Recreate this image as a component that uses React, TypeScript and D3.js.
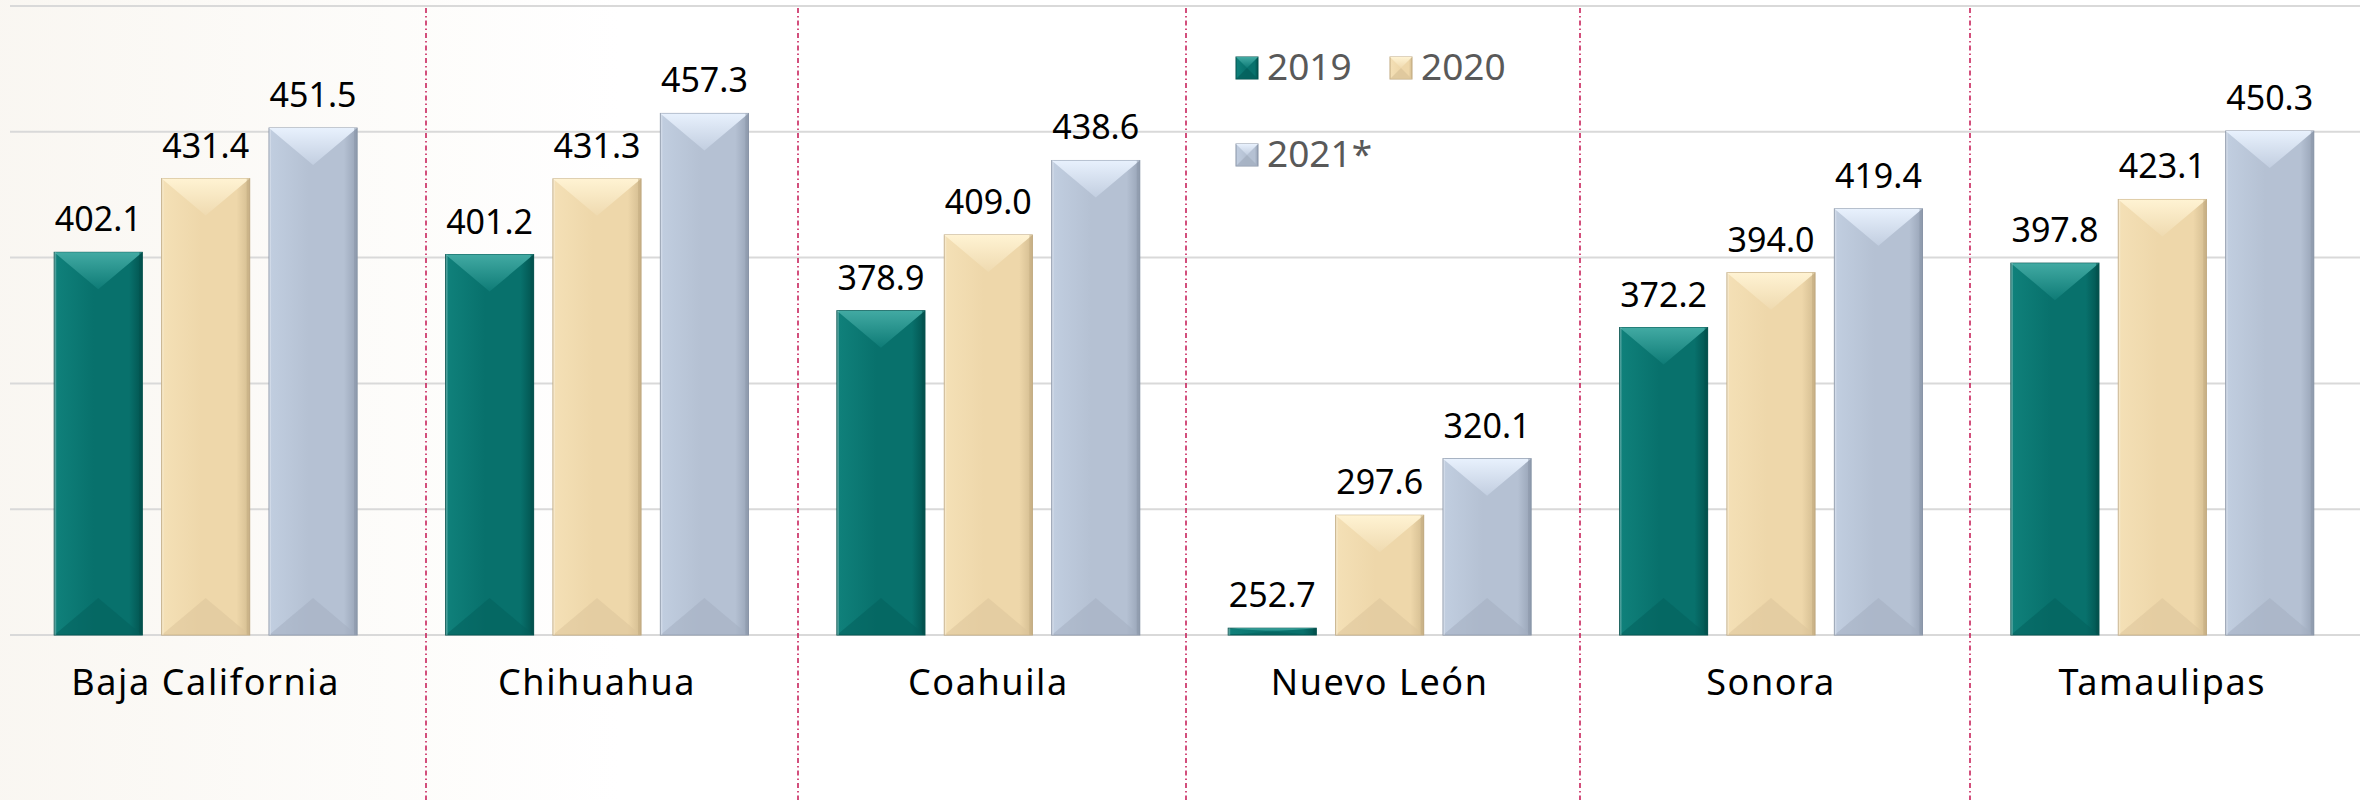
import React from 'react';
import * as d3 from 'd3';

const states = ['Baja California', 'Chihuahua', 'Coahuila', 'Nuevo León', 'Sonora', 'Tamaulipas'];
const seriesNames = ['2019', '2020', '2021*'];
const values2019 = [402.1, 401.2, 378.9, 252.7, 372.2, 397.8];
const values2020 = [431.4, 431.3, 409.0, 297.6, 394.0, 423.1];
const values2021 = [451.5, 457.3, 438.6, 320.1, 419.4, 450.3];
const yTicks = [250, 300, 350, 400, 450, 500];
// dash-dot separators drawn over the slide (not on band edges)
const separatorX = [426, 798, 1186, 1580, 1970];

const W = 2366;
const H = 800;

// colours for each series: side gradient, top facet, bottom facet, edge
const palette = [
  { left: '#10817b', mid: '#08716c', right: '#02534f', topA: '#42aaa3', topB: '#0e7b76', bottom: '#04605c', edge: '#03504c' },
  { left: '#f4e0b6', mid: '#eed7aa', right: '#d3bc90', topA: '#fff3d3', topB: '#efdab0', bottom: '#dcc59b', edge: '#bfa87e' },
  { left: '#c1cee0', mid: '#b5c1d3', right: '#97a3b6', topA: '#e8f1fd', topB: '#c2cee0', bottom: '#a4afc1', edge: '#8793a6' },
];

const App: React.FC = () => {
  const table = states.map((s, i) => ({ state: s, vals: [values2019[i], values2020[i], values2021[i]] }));

  const x0 = d3.scaleBand<string>().domain(states).range([10, 2358]).paddingInner(0.226).paddingOuter(0.113);
  const x1 = d3.scaleBand<string>().domain(seriesNames).range([0, x0.bandwidth()]).paddingInner(0.18);
  const y = d3.scaleLinear().domain([250, 500]).range([635, 6]);

  const bar = (sx: number, v: number, k: number, key: string) => {
    const p = palette[k];
    const w = x1.bandwidth();
    const top = y(v);
    const h = y(250) - top;
    const d = Math.min(37, h / 2);
    const cx = sx + w / 2;
    return (
      <g key={key}>
        <rect x={sx} y={top} width={w} height={h} fill={`url(#side${k})`} stroke={p.edge} strokeWidth={1} />
        <polygon points={`${sx},${top} ${sx + w},${top} ${cx},${top + d}`} fill={`url(#top${k})`} />
        <polygon points={`${sx},${top + h} ${sx + w},${top + h} ${cx},${top + h - d}`} fill={p.bottom} opacity={0.55} />
        <rect x={sx + w - 3} y={top} width={3} height={h} fill={p.edge} opacity={0.5} />
        <rect x={sx} y={top} width={2} height={h} fill="#ffffff" opacity={0.25} />
      </g>
    );
  };

  const swatch = (sx: number, sy: number, k: number) => {
    const p = palette[k];
    const s = 22;
    return (
      <g>
        <rect x={sx} y={sy} width={s} height={s} fill={`url(#side${k})`} stroke={p.edge} strokeWidth={1} />
        <polygon points={`${sx},${sy} ${sx + s},${sy} ${sx + s / 2},${sy + s / 2}`} fill={`url(#top${k})`} />
        <polygon points={`${sx},${sy + s} ${sx + s},${sy + s} ${sx + s / 2},${sy + s / 2}`} fill={p.bottom} opacity={0.8} />
      </g>
    );
  };

  const legendPos = [
    { x: 1236, y: 57 },
    { x: 1390, y: 57 },
    { x: 1236, y: 144 },
  ];

  return (
    <svg width={W} height={H} style={{ position: 'absolute', left: 0, top: 0 }} fontFamily="'Noto Sans', sans-serif">
      <defs>
        {palette.map((p, k) => (
          <React.Fragment key={k}>
            <linearGradient id={`side${k}`} x1="0" y1="0" x2="1" y2="0">
              <stop offset="0%" stopColor={p.left} />
              <stop offset="45%" stopColor={p.mid} />
              <stop offset="85%" stopColor={p.mid} />
              <stop offset="100%" stopColor={p.right} />
            </linearGradient>
            <linearGradient id={`top${k}`} x1="0" y1="0" x2="0" y2="1">
              <stop offset="0%" stopColor={p.topA} />
              <stop offset="100%" stopColor={p.topB} />
            </linearGradient>
          </React.Fragment>
        ))}
        <linearGradient id="wash" x1="0" y1="0" x2="1" y2="0">
          <stop offset="0%" stopColor="#f7f3ec" />
          <stop offset="100%" stopColor="#ffffff" />
        </linearGradient>
      </defs>

      <rect x={0} y={0} width={W} height={H} fill="#ffffff" />
      <rect x={0} y={0} width={620} height={H} fill="url(#wash)" opacity={0.7} />

      {/* gridlines */}
      {yTicks.map((t) => (
        <line key={t} x1={10} x2={2360} y1={y(t)} y2={y(t)} stroke="#d9d9d9" strokeWidth={2} />
      ))}

      {/* separators */}
      {separatorX.map((sx) => (
        <line key={sx} x1={sx} x2={sx} y1={8} y2={H} stroke="#c8245c" strokeWidth={1.6} strokeDasharray="5 3 1.5 3" />
      ))}

      {/* bars */}
      {table.map((row) => (
        <g key={row.state} transform={`translate(${x0(row.state)},0)`}>
          {row.vals.map((v, k) => bar(x1(seriesNames[k]) as number, v, k, seriesNames[k]))}
          {row.vals.map((v, k) => (
            <text
              key={'l' + k}
              x={(x1(seriesNames[k]) as number) + x1.bandwidth() / 2}
              y={y(v) - 21}
              textAnchor="middle"
              fontSize={34}
              fill="#000000"
            >
              {v.toFixed(1)}
            </text>
          ))}
          <text x={x0.bandwidth() / 2} y={695} textAnchor="middle" fontSize={36} fill="#000000" letterSpacing={1.6}>
            {row.state}
          </text>
        </g>
      ))}

      {/* legend */}
      {seriesNames.map((s, k) => (
        <g key={s}>
          {swatch(legendPos[k].x, legendPos[k].y, k)}
          <text x={legendPos[k].x + 31} y={legendPos[k].y + 23} fontSize={37} fill="#595959">
            {s}
          </text>
        </g>
      ))}
    </svg>
  );
};

export default App;
